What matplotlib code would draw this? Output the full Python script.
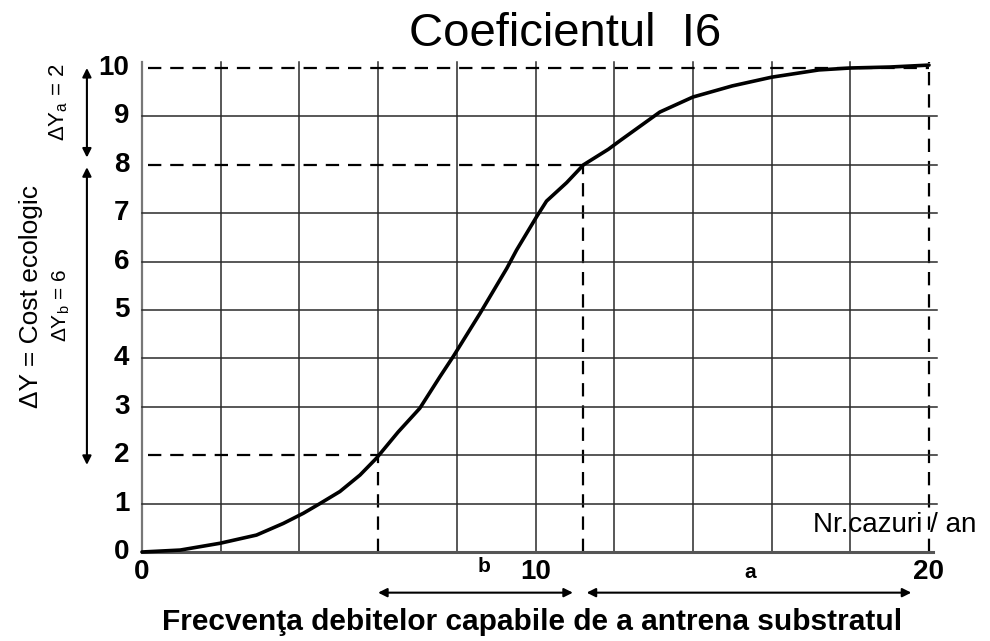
import matplotlib
matplotlib.use("Agg")
import matplotlib.pyplot as plt

# ---- data ----
curve_x = [0, 0.97, 1.98, 2.91, 3.59, 4.1, 4.52, 5.03, 5.54, 5.96, 6.51, 7.06, 7.57,
           7.91, 8.59, 9.27, 9.52, 10.03, 10.28, 10.79, 11.22, 11.85, 12.15, 13.16,
           14.0, 15.0, 16.0, 17.2, 18.0, 19.0, 20.0]
curve_y = [0, 0.04, 0.18, 0.35, 0.59, 0.8, 1.0, 1.25, 1.59, 1.94, 2.48, 2.97, 3.62,
           4.04, 4.93, 5.86, 6.24, 6.93, 7.25, 7.63, 8.0, 8.32, 8.5, 9.09,
           9.4, 9.63, 9.81, 9.96, 10.0, 10.02, 10.06]
grid_x = [2, 4, 8, 10, 12, 14, 16, 18]
grid_y = [1, 3, 4, 5, 6, 7, 9]
y_ticks = [0, 1, 2, 3, 4, 5, 6, 7, 8, 9, 10]
x_ticks = [0, 10, 20]
b_start, b_end = 6.0, 11.2      # limits of segment b
a_end = 20.0
ya, yb_low = 8.0, 2.0

plt.rcParams['font.family'] = ['Liberation Sans', 'DejaVu Sans']

W, H = 990, 641
fig = plt.figure(figsize=(W / 100, H / 100), dpi=100)
ax = fig.add_axes([142 / W, 1 - 552 / H, (929 - 142) / W, (552 - 68) / H])
ax.set_xlim(0, 20)
ax.set_ylim(0, 10)
for s in ax.spines.values():
    s.set_visible(False)

gc = '#2a2a2a'
glw = 1.1
dash = dict(color='black', lw=1.6, dashes=(6, 4))
# vertical grid
for gx in grid_x:
    ax.plot([gx, gx], [0, 10.12], color=gc, lw=glw, clip_on=False)
ax.plot([b_start, b_start], [yb_low, 10.12], color=gc, lw=glw, clip_on=False)
ax.plot([b_start, b_start], [0, yb_low], **dash)
ax.plot([b_end, b_end], [0, ya], **dash)
ax.plot([a_end, a_end], [0, 10.12], clip_on=False, **dash)
# left axis line
ax.plot([0, 0], [0, 10.12], color='#777777', lw=1.6, clip_on=False)
# horizontal grid
for gy in grid_y:
    ax.plot([0, 20.2], [gy, gy], color=gc, lw=glw, clip_on=False)
ax.plot([b_start, 20.2], [yb_low, yb_low], color=gc, lw=glw, clip_on=False)
ax.plot([0.15, b_start], [yb_low, yb_low], **dash)
ax.plot([b_end, 20.2], [ya, ya], color=gc, lw=glw, clip_on=False)
ax.plot([0.15, b_end], [ya, ya], **dash)
ax.plot([0.15, 20], [10, 10], clip_on=False, **dash)
ax.plot([0, 20.1], [0, 0], color='#555555', lw=2.2, clip_on=False)

# curve
ax.plot(curve_x, curve_y, color='black', lw=2.6, solid_capstyle='round',
        solid_joinstyle='round', clip_on=False, zorder=5)

# ticks
ax.set_xticks([])
ax.set_yticks([])
for t in y_ticks:
    ax.text(-0.32, t, str(t), ha='right', va='center', fontsize=20,
            fontweight='heavy', family='Liberation Sans')
for t in x_ticks:
    ax.text(t, -0.42, str(t), ha='center', va='center', fontsize=20,
            fontweight='heavy', family='Liberation Sans')

# left double arrows
ap = dict(arrowstyle='<|-|>', color='black', lw=1.5, mutation_scale=13,
          shrinkA=0, shrinkB=0)
ax.annotate('', xy=(-1.4, 10.0), xytext=(-1.4, 8.15), arrowprops=ap,
            annotation_clip=False)
ax.annotate('', xy=(-1.4, 7.95), xytext=(-1.4, 1.8), arrowprops=ap,
            annotation_clip=False)
# bottom double arrows
ax.annotate('', xy=(b_start, -0.84), xytext=(b_end - 0.25, -0.84), arrowprops=ap,
            annotation_clip=False)
ax.annotate('', xy=(b_end + 0.1, -0.84), xytext=(a_end - 0.45, -0.84), arrowprops=ap,
            annotation_clip=False)

def fx(x):
    return x / W

def fy(y):
    return 1 - y / H

fig.text(fx(31), fy(297), 'ΔY = Cost ecologic', rotation=90, ha='center', va='center',
         fontsize=19)
fig.text(fx(61), fy(305), 'ΔY$_\\mathregular{b}$ = 6', rotation=90, ha='center', va='center',
         fontsize=15)
fig.text(fx(59), fy(102), 'ΔY$_\\mathregular{a}$ = 2', rotation=90, ha='center', va='center',
         fontsize=16)

fig.text(fx(565), fy(34), 'Coeficientul  I6', ha='center', va='center', fontsize=34)
fig.text(fx(484), fy(567), 'b', ha='center', va='center', fontsize=15, fontweight='bold')
fig.text(fx(750), fy(572), 'a', ha='center', va='center', fontsize=15, fontweight='bold')
fig.text(fx(976), fy(525), 'Nr.cazuri / an', ha='right', va='center', fontsize=20)
fig.text(fx(532), fy(622), 'Frecvenţa debitelor capabile de a antrena substratul',
         ha='center', va='center', fontsize=21.5, fontweight='bold')

fig.savefig('out.png', dpi=100, facecolor='white')
